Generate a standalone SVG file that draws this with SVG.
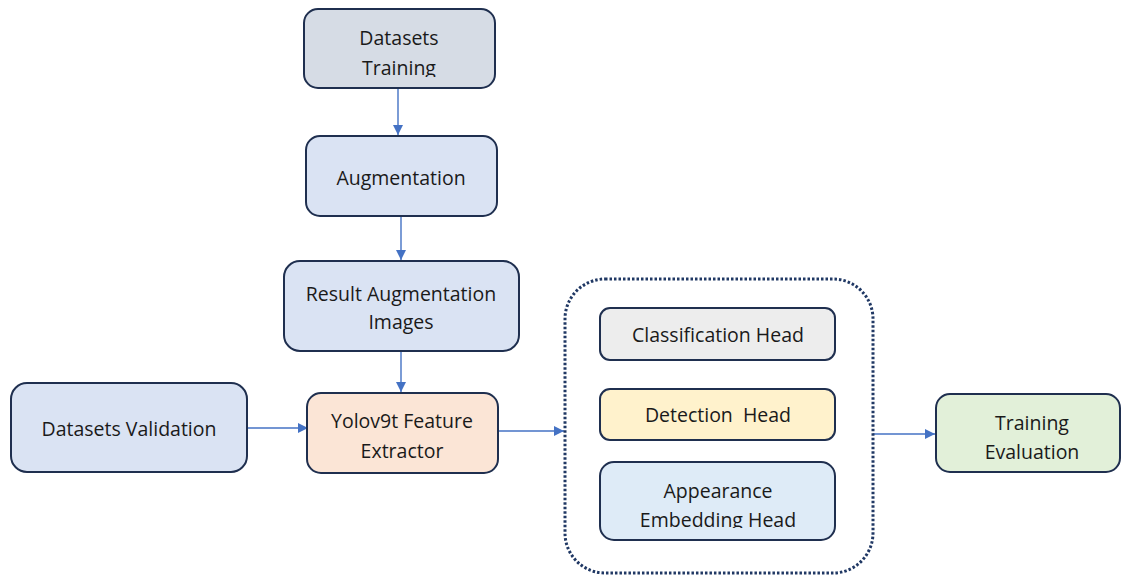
<svg xmlns="http://www.w3.org/2000/svg" width="1121" height="575" viewBox="0 0 1121 575">
  <style>
    .box { stroke: #1f2f4f; stroke-width: 2; }
    .lbl { font-family: "Open Sans", "Noto Sans", sans-serif; font-size: 19.5px; fill: #1a1a1a; text-anchor: middle; }
    .link { stroke: #4472c4; stroke-width: 1.4; fill: none; marker-end: url(#arrow); }
  </style>
  <defs>
    <marker id="arrow" viewBox="0 0 10 10" refX="10" refY="5" markerWidth="10" markerHeight="10" markerUnits="userSpaceOnUse" orient="auto">
      <path d="M0,0 L10,5 L0,10 z" fill="#4472c4"/>
    </marker>
    <clipPath id="clipTrain"><rect x="304" y="9" width="191" height="68"/></clipPath>
    <clipPath id="clipEmbed"><rect x="600" y="462" width="235" height="66"/></clipPath>
  </defs>

  <rect width="1121" height="575" fill="#ffffff"/>

  <g id="connectors">
    <line class="link" x1="398" y1="88" x2="398" y2="135"/>
    <line class="link" x1="401" y1="216" x2="401" y2="260"/>
    <line class="link" x1="401" y1="351" x2="401" y2="392"/>
    <line class="link" x1="247" y1="428" x2="308" y2="428"/>
    <line class="link" x1="498" y1="431" x2="564" y2="431"/>
    <line class="link" x1="873" y1="434" x2="935" y2="434"/>
  </g>

  <g id="datasets-training">
    <rect class="box" x="304" y="9" width="191" height="79" rx="14" fill="#d6dce5"/>
    <g clip-path="url(#clipTrain)">
      <text class="lbl" x="399" y="45">Datasets</text>
      <text class="lbl" x="399" y="75">Training</text>
    </g>
  </g>

  <g id="augmentation">
    <rect class="box" x="306" y="136" width="191" height="80" rx="14" fill="#dae3f3"/>
    <text class="lbl" x="401" y="185">Augmentation</text>
  </g>

  <g id="result-augmentation">
    <rect class="box" x="284" y="261" width="235" height="90" rx="16" fill="#dae3f3"/>
    <text class="lbl" x="401" y="301">Result Augmentation</text>
    <text class="lbl" x="401" y="329">Images</text>
  </g>

  <g id="datasets-validation">
    <rect class="box" x="11" y="383" width="236" height="89" rx="16" fill="#dae3f3"/>
    <text class="lbl" x="129" y="436">Datasets Validation</text>
  </g>

  <g id="feature-extractor">
    <rect class="box" x="307" y="393" width="191" height="80" rx="14" fill="#fbe5d6"/>
    <text class="lbl" x="402" y="428">Yolov9t Feature</text>
    <text class="lbl" x="402" y="458">Extractor</text>
  </g>

  <g id="heads">
    <rect x="565" y="279" width="308" height="294" rx="40" fill="none" stroke="#203864" stroke-width="3" stroke-dasharray="2.5 2"/>
    <g id="classification-head">
      <rect class="box" x="600" y="308" width="235" height="52" rx="10" fill="#ededed"/>
      <text class="lbl" x="718" y="342">Classification Head</text>
    </g>
    <g id="detection-head">
      <rect class="box" x="600" y="389" width="235" height="51" rx="10" fill="#fff2cc"/>
      <text class="lbl" x="718" y="422" xml:space="preserve">Detection  Head</text>
    </g>
    <g id="appearance-head">
      <rect class="box" x="600" y="462" width="235" height="78" rx="14" fill="#deebf7"/>
      <g clip-path="url(#clipEmbed)">
        <text class="lbl" x="718" y="498">Appearance</text>
        <text class="lbl" x="718" y="527">Embedding Head</text>
      </g>
    </g>
  </g>

  <g id="training-evaluation">
    <rect class="box" x="936" y="394" width="184" height="78" rx="14" fill="#e2f0d9"/>
    <text class="lbl" x="1032" y="430">Training</text>
    <text class="lbl" x="1032" y="459">Evaluation</text>
  </g>
</svg>
